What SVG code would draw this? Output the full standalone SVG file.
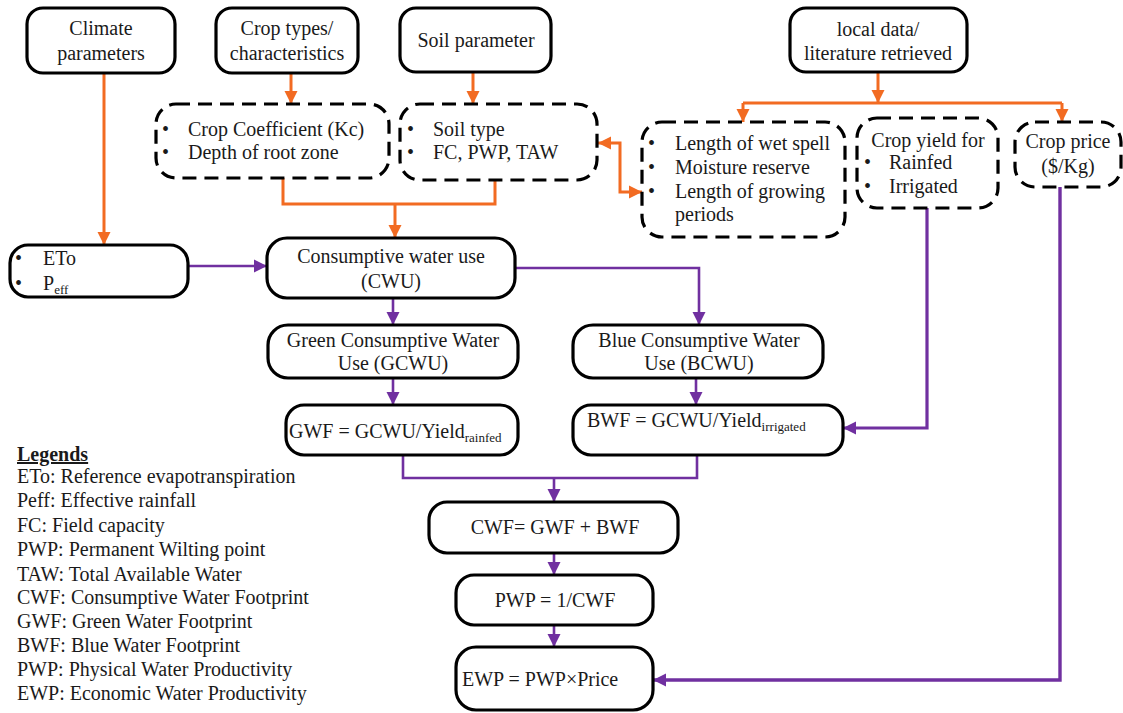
<svg xmlns="http://www.w3.org/2000/svg" width="1123" height="713" viewBox="0 0 1123 713">
<style>
text{font-family:"Liberation Serif","Times New Roman",serif;font-size:20px;fill:#1a1a1a}
.c{text-anchor:middle}
.box{fill:#fff;stroke:#000;stroke-width:3.2}
.dash{fill:#fff;stroke:#000;stroke-width:3.2;stroke-dasharray:14 8}
.or{fill:none;stroke:#F26B22;stroke-width:3}
.pu{fill:none;stroke:#7030A0;stroke-width:2.6}
.sub{font-size:13px}
</style>
<defs>
<marker id="ao" markerUnits="userSpaceOnUse" markerWidth="14" markerHeight="14" refX="13" refY="7" orient="auto"><path d="M0,0.5 L13,7 L0,13.5 Z" fill="#F26B22"/></marker>
<marker id="aos" markerUnits="userSpaceOnUse" markerWidth="14" markerHeight="14" refX="1" refY="7" orient="auto"><path d="M14,0.5 L1,7 L14,13.5 Z" fill="#F26B22"/></marker>
<marker id="ap" markerUnits="userSpaceOnUse" markerWidth="14" markerHeight="14" refX="13" refY="7" orient="auto"><path d="M0,0.5 L13,7 L0,13.5 Z" fill="#7030A0"/></marker>
</defs>
<rect width="1123" height="713" fill="#fff"/>
<g id="connectors">
<path class="or" d="M104,73 V245" marker-end="url(#ao)"/>
<path class="or" d="M291,73 V104" marker-end="url(#ao)"/>
<path class="or" d="M473,72 V104" marker-end="url(#ao)"/>
<path class="or" d="M878,72 V103" marker-end="url(#ao)"/>
<path class="or" d="M743,103 H1062"/>
<path class="or" d="M743,103 V122" marker-end="url(#ao)"/>
<path class="or" d="M1062,103 V122" marker-end="url(#ao)"/>
<path class="or" d="M283,178 V204 H495 V180"/>
<path class="or" d="M395,204 V238" marker-end="url(#ao)"/>
<path class="or" d="M598,143 H620 V192 H642" marker-start="url(#aos)" marker-end="url(#ao)"/>
<path class="pu" d="M188,266 H267" marker-end="url(#ap)"/>
<path class="pu" d="M515,268 H699 V325" marker-end="url(#ap)"/>
<path class="pu" d="M393,298 V325" marker-end="url(#ap)"/>
<path class="pu" d="M393,378 V405" marker-end="url(#ap)"/>
<path class="pu" d="M696,378 V405" marker-end="url(#ap)"/>
<path class="pu" d="M403,455 V478 H697 V455"/>
<path class="pu" d="M554,478 V502" marker-end="url(#ap)"/>
<path class="pu" d="M554,553 V575" marker-end="url(#ap)"/>
<path class="pu" d="M554,625 V647" marker-end="url(#ap)"/>
<path class="pu" style="stroke-width:3.2" d="M927,208 V428 H843" marker-end="url(#ap)"/>
<path class="pu" style="stroke-width:3.4" d="M1060,187 V680 H653" marker-end="url(#ap)"/>
</g>
<g id="climate"><rect class="box" x="27" y="8" width="148" height="65" rx="16"/><text class="c" x="101" y="35">Climate</text><text class="c" x="101" y="60">parameters</text></g>
<g id="croptypes"><rect class="box" x="216" y="8" width="142" height="65" rx="16"/><text class="c" x="287" y="35">Crop types/</text><text class="c" x="287" y="60">characteristics</text></g>
<g id="soilparam"><rect class="box" x="400" y="8" width="151" height="64" rx="16"/><text class="c" x="476" y="47">Soil parameter</text></g>
<g id="localdata"><rect class="box" x="790" y="8" width="177" height="64" rx="16"/><text class="c" x="878" y="36">local data/</text><text class="c" x="878" y="60">literature retrieved</text></g>
<g id="cropcoef"><rect class="dash" x="156" y="104" width="233" height="74" rx="20"/><text x="162" y="136">•</text><text x="188" y="136">Crop Coefficient (Kc)</text><text x="162" y="159">•</text><text x="188" y="159">Depth of root zone</text></g>
<g id="soiltype"><rect class="dash" x="400" y="104" width="197" height="76" rx="20"/><text x="407" y="136">•</text><text x="433" y="136">Soil type</text><text x="407" y="159">•</text><text x="433" y="159">FC, PWP, TAW</text></g>
<g id="wetspell"><rect class="dash" x="642" y="122" width="203" height="115" rx="20"/><text x="648" y="150">•</text><text x="675" y="150">Length  of wet spell</text><text x="648" y="174">•</text><text x="675" y="174">Moisture reserve</text><text x="648" y="198">•</text><text x="675" y="198">Length of growing</text><text x="675" y="221">periods</text></g>
<g id="cropyield"><rect class="dash" x="857" y="118" width="141" height="90" rx="20"/><text class="c" x="928" y="147">Crop yield for</text><text x="864" y="169">•</text><text x="889" y="169">Rainfed</text><text x="864" y="193">•</text><text x="889" y="193">Irrigated</text></g>
<g id="cropprice"><rect class="dash" x="1015" y="122" width="106" height="65" rx="20"/><text class="c" x="1068" y="148">Crop price</text><text class="c" x="1068" y="173">($/Kg)</text></g>
<g id="eto"><rect class="box" x="10" y="245" width="178" height="52" rx="18"/><text x="15" y="265">•</text><text x="43" y="265">ETo</text><text x="15" y="290">•</text><text x="43" y="290">P<tspan class="sub" dy="4">eff</tspan></text></g>
<g id="cwu"><rect class="box" x="267" y="238" width="248" height="60" rx="20"/><text class="c" x="391" y="263">Consumptive water use</text><text class="c" x="391" y="288">(CWU)</text></g>
<g id="gcwu"><rect class="box" x="268" y="325" width="250" height="53" rx="20"/><text class="c" x="393" y="347">Green Consumptive Water</text><text class="c" x="393" y="370">Use (GCWU)</text></g>
<g id="gwf"><rect class="box" x="286" y="405" width="232" height="50" rx="18"/><text x="289" y="438">GWF = GCWU/Yield<tspan class="sub" dy="4">rainfed</tspan></text></g>
<g id="bcwu"><rect class="box" x="573" y="325" width="250" height="53" rx="20"/><text class="c" x="699" y="347">Blue Consumptive Water</text><text class="c" x="699" y="370">Use (BCWU)</text></g>
<g id="bwf"><rect class="box" x="573" y="405" width="270" height="50" rx="18"/><text x="587" y="427">BWF = GCWU/Yield<tspan class="sub" dy="4">irrigated</tspan></text></g>
<g id="cwf"><rect class="box" x="429" y="502" width="249" height="51" rx="18"/><text class="c" x="555" y="534">CWF= GWF + BWF</text></g>
<g id="pwp"><rect class="box" x="456" y="575" width="197" height="50" rx="18"/><text class="c" x="555" y="607">PWP = 1/CWF</text></g>
<g id="ewp"><rect class="box" x="456" y="647" width="197" height="63" rx="20"/><text x="462" y="686">EWP = PWP×Price</text></g>
<g id="legend">
<text x="17" y="461" style="font-weight:bold;text-decoration:underline">Legends</text>
<text x="17" y="483">ETo: Reference evapotranspiration</text>
<text x="17" y="507">Peff: Effective rainfall</text>
<text x="17" y="532">FC: Field capacity</text>
<text x="17" y="556">PWP: Permanent Wilting point</text>
<text x="17" y="581">TAW: Total Available Water</text>
<text x="17" y="604">CWF: Consumptive Water Footprint</text>
<text x="17" y="628">GWF: Green Water Footprint</text>
<text x="17" y="652">BWF: Blue Water Footprint</text>
<text x="17" y="676">PWP: Physical Water Productivity</text>
<text x="17" y="700">EWP: Economic Water Productivity</text>
</g>
</svg>
